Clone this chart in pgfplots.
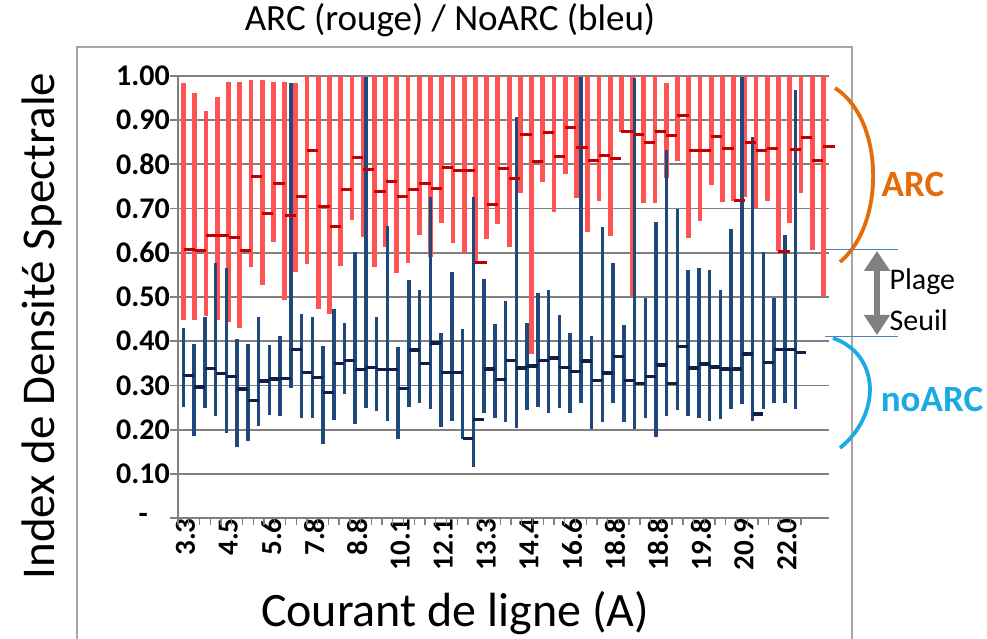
\documentclass[border=0pt]{standalone}
\usepackage{pgfplots}
\pgfplotsset{compat=1.18}
\usepackage{pgfplotstable}
\usepackage{fontspec}
\setmainfont{Carlito}
\usetikzlibrary{arrows.meta}
\definecolor{redbar}{RGB}{255,82,82}
\definecolor{redcl}{RGB}{192,0,0}
\definecolor{bluebar}{RGB}{31,73,125}
\definecolor{bluecl}{RGB}{12,32,72}
\definecolor{gridgray}{RGB}{128,128,128}
\definecolor{framegray}{RGB}{166,166,166}
\definecolor{arcorange}{RGB}{228,108,10}
\definecolor{arccyan}{RGB}{28,170,226}
\definecolor{thrblue}{RGB}{79,129,189}
\definecolor{arrowgray}{RGB}{128,128,128}

\pgfplotstableread{
i lo hi cl
0 0.448 0.983 0.607
1 0.448 0.960 0.606
2 0.457 0.920 0.639
3 0.448 0.952 0.639
4 0.444 0.986 0.635
5 0.431 0.985 0.605
6 0.568 0.990 0.772
7 0.527 0.990 0.688
8 0.625 0.985 0.757
9 0.493 0.986 0.684
10 0.556 0.983 0.727
11 0.575 1.0 0.831
12 0.472 1.0 0.704
13 0.461 1.0 0.659
14 0.570 1.0 0.742
15 0.673 1.0 0.816
16 0.635 1.0 0.788
17 0.568 1.0 0.739
18 0.614 1.0 0.760
19 0.555 1.0 0.726
20 0.576 1.0 0.742
21 0.641 1.0 0.757
22 0.590 1.0 0.745
23 0.668 1.0 0.792
24 0.622 1.0 0.786
25 0.600 1.0 0.786
26 0.577 1.0 0.577
27 0.630 1.0 0.708
28 0.666 1.0 0.790
29 0.612 1.0 0.767
30 0.734 1.0 0.867
31 0.371 1.0 0.805
32 0.760 1.0 0.872
33 0.692 1.0 0.818
34 0.777 1.0 0.882
35 0.723 1.0 0.838
36 0.646 1.0 0.808
37 0.717 1.0 0.820
38 0.637 1.0 0.812
39 0.872 1.0 0.873
40 0.503 1.0 0.866
41 0.712 1.0 0.848
42 0.712 1.0 0.873
43 0.768 0.983 0.865
44 0.807 1.0 0.910
45 0.633 1.0 0.830
46 0.672 1.0 0.830
47 0.752 1.0 0.863
48 0.715 1.0 0.835
49 0.716 1.0 0.717
50 0.727 1.0 0.849
51 0.700 1.0 0.830
52 0.716 1.0 0.836
53 0.603 1.0 0.603
54 0.668 1.0 0.833
55 0.734 1.0 0.860
56 0.607 1.0 0.809
57 0.503 1.0 0.839
}\redtab

\pgfplotstableread{
i lo hi cl
0 0.252 0.431 0.322
1 0.185 0.394 0.297
2 0.250 0.455 0.338
3 0.231 0.576 0.327
4 0.192 0.565 0.320
5 0.161 0.406 0.292
6 0.174 0.394 0.266
7 0.209 0.455 0.310
8 0.233 0.392 0.315
9 0.231 0.412 0.316
10 0.294 0.983 0.381
11 0.226 0.461 0.330
12 0.226 0.455 0.318
13 0.168 0.390 0.284
14 0.223 0.472 0.350
15 0.280 0.441 0.357
16 0.214 0.601 0.336
17 0.250 0.998 0.341
18 0.243 0.455 0.336
19 0.220 0.660 0.336
20 0.179 0.386 0.293
21 0.252 0.539 0.380
22 0.260 0.516 0.350
23 0.248 0.725 0.396
24 0.207 0.419 0.330
25 0.220 0.556 0.330
26 0.180 0.428 0.180
27 0.116 0.727 0.223
28 0.237 0.541 0.337
29 0.226 0.440 0.314
30 0.218 0.491 0.357
31 0.203 0.907 0.340
32 0.245 0.441 0.344
33 0.252 0.509 0.356
34 0.237 0.515 0.362
35 0.250 0.459 0.341
36 0.237 0.419 0.331
37 0.260 0.998 0.355
38 0.202 0.411 0.311
39 0.217 0.658 0.328
40 0.260 0.576 0.365
41 0.217 0.436 0.311
42 0.201 0.995 0.305
43 0.226 0.497 0.320
44 0.184 0.669 0.346
45 0.230 0.832 0.305
46 0.245 0.699 0.388
47 0.232 0.562 0.340
48 0.226 0.566 0.349
49 0.220 0.560 0.342
50 0.224 0.516 0.337
51 0.248 0.654 0.337
52 0.259 0.998 0.371
53 0.220 0.861 0.236
54 0.247 0.601 0.352
55 0.260 0.497 0.382
56 0.260 0.639 0.382
57 0.247 0.968 0.375
}\bluetab

\begin{document}
\begin{tikzpicture}[x=1pt,y=1pt]
\path[use as bounding box] (0,0) rectangle (987,639);
% chart frame
\draw[framegray, line width=1.5pt] (77,-5) -- (77,592) -- (852,592) -- (852,-5);

% ---- red (ARC) series: bars + grid + y axis
\begin{axis}[
  at={(178pt,120.7pt)}, anchor=south west, scale only axis,
  width=651pt, height=442.6pt,
  xmin=-0.5, xmax=57.5, ymin=0, ymax=1,
  clip=false,
  axis lines*=left,
  axis line style={draw=gridgray, line width=1.8pt},
  xtick=\empty,
  ytick={0,0.1,0.2,0.3,0.4,0.5,0.6,0.7,0.8,0.9,1.0},
  yticklabels={-\rule{22pt}{0pt},0.10,0.20,0.30,0.40,0.50,0.60,0.70,0.80,0.90,1.00},
  ymajorgrids, grid style={draw=gridgray, line width=1.8pt},
  tick align=outside, major tick length=8pt,
  y tick style={draw=gridgray, line width=1.8pt},
  yticklabel style={font=\bfseries\fontsize{30}{30}\selectfont, inner sep=0pt, anchor=east},
]
\addplot[draw=redbar, line width=4.8pt, -, quiver={u=0, v=\thisrow{hi}-\thisrow{lo}}]
  table[x=i, y=lo] {\redtab};
\end{axis}

% ---- blue (noARC) series with x axis ticks and labels
\begin{axis}[
  at={(178pt,120.7pt)}, anchor=south west, scale only axis,
  width=623pt, height=442.6pt,
  xmin=-0.5, xmax=57.5, ymin=0, ymax=1,
  clip=false,
  axis x line*=bottom, axis y line=none,
  x axis line style={draw=gridgray, line width=1.8pt},
  tick align=outside,
  xtick={0,4,...,56},
  xticklabels={3.3,4.5,5.6,7.8,8.8,10.1,12.1,13.3,14.4,16.6,18.8,18.8,19.8,20.9,22.0},
  major tick length=0pt,
  xticklabel style={rotate=90, anchor=east, inner sep=0pt, yshift=-2pt, font=\bfseries\fontsize{29}{29}\selectfont},
  extra x ticks={-0.5,0.5,...,57.5},
  extra x tick labels={},
  extra x tick style={major tick length=7pt, tick style={draw=gridgray, line width=1.3pt}},
]
\addplot[draw=bluebar, line width=3.5pt, -, quiver={u=0, v=\thisrow{hi}-\thisrow{lo}}]
  table[x=i, y=lo] {\bluetab};
\addplot[draw=bluecl, line width=3.4pt, -, quiver={u=1, v=0}]
  table[x=i, y=cl] {\bluetab};
\end{axis}

% ---- red close ticks on top
\begin{axis}[
  at={(178pt,120.7pt)}, anchor=south west, scale only axis,
  width=651pt, height=442.6pt,
  xmin=-0.5, xmax=57.5, ymin=0, ymax=1,
  clip=false, hide axis,
]
\addplot[draw=redcl, line width=3pt, -, quiver={u=1, v=0}]
  table[x=i, y=cl] {\redtab};
\end{axis}

% titles
\node[anchor=base, font=\fontsize{37}{37}\selectfont] at (450,608) {ARC (rouge) / NoARC (bleu)};
\node[rotate=90, font=\fontsize{47}{47}\selectfont] at (42,313) {Index de Densité Spectrale};
\node[anchor=base, font=\fontsize{48}{48}\selectfont] at (455,12) {Courant de ligne (A)};

% annotations
\draw[arcorange, line width=3.8pt] (835,551) .. controls (885,519) and (885,414) .. (840,377);
\node[font=\bfseries\fontsize{37}{37}\selectfont, text=arcorange] at (913,454) {ARC};
\draw[thrblue, line width=1.2pt] (825,389.7) -- (898,389.7);
\draw[thrblue, line width=1.2pt] (825,302.3) -- (898,302.3);
\draw[arrowgray, line width=6pt, {Triangle[width=25pt,length=20pt]}-{Triangle[width=25pt,length=20pt]}] (877,388) -- (877,304);
\node[anchor=west, font=\fontsize{30}{30}\selectfont] at (886,357) {Plage};
\node[anchor=west, font=\fontsize{30}{30}\selectfont] at (886,319) {Seuil};
\draw[arccyan, line width=3.8pt] (833,301) .. controls (881,284) and (881,224) .. (840,191);
\node[font=\bfseries\fontsize{37}{37}\selectfont, text=arccyan] at (932,239) {noARC};
\end{tikzpicture}
\end{document}
